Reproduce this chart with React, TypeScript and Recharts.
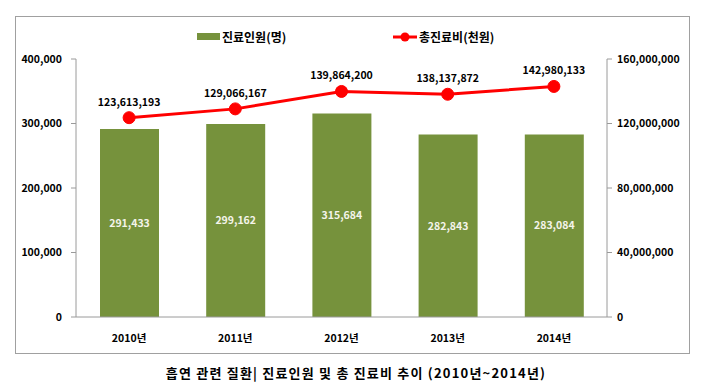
import React from 'react';
import { ComposedChart, Bar, Line, XAxis, YAxis, LabelList } from 'recharts';

const years = ['2010년', '2011년', '2012년', '2013년', '2014년'];
const patients = [291433, 299162, 315684, 282843, 283084];
const costs = [123613193, 129066167, 139864200, 138137872, 142980133];
const leftTicks = [0, 100000, 200000, 300000, 400000];
const rightTicks = [0, 40000000, 80000000, 120000000, 160000000];
const edgeTicks = [0, 1, 2, 3, 4, 5];
const barName = '진료인원(명)';
const lineName = '총진료비(천원)';
const title = '흡연 관련 질환| 진료인원 및 총 진료비 추이 (2010년~2014년)';

const data = years.map((y, i) => ({ year: y, idx: i + 0.5, patients: patients[i], costs: costs[i] }));

const FONT = '"Noto Sans CJK KR", "Noto Sans", sans-serif';
const fmt = (v: number) => v.toLocaleString('en-US');
const axisColor = '#9a9a9a';
const tickStyle = { fill: '#000', fontSize: 10.5, fontWeight: 700, fontFamily: FONT };

export default function App() {
  return (
    <div style={{ position: 'relative', width: 712, height: 389, margin: '-8px 0 0 -8px', background: '#fff', fontFamily: FONT }}>
      <div style={{ position: 'absolute', left: 15, top: 16, width: 675, height: 338, border: '1px solid #a0a0a0', boxSizing: 'border-box' }} />
      <ComposedChart width={712} height={389} data={data} margin={{ top: 59, right: 23, bottom: 42, left: 12 }} style={{ position: 'absolute', left: 0, top: 0 }}>
        <XAxis xAxisId="edges" type="number" dataKey="idx" domain={[0, 5]} ticks={edgeTicks} height={0}
          axisLine={false} tickLine={{ stroke: axisColor }} tickSize={5} tickFormatter={() => ''} />
        <XAxis dataKey="year" height={30} axisLine={{ stroke: axisColor }} tickLine={false}
          tick={tickStyle} tickMargin={12} />
        <YAxis yAxisId="left" domain={[0, 400000]} ticks={leftTicks} width={64} tickFormatter={fmt}
          axisLine={{ stroke: axisColor }} tickLine={{ stroke: axisColor }} tickSize={5} tick={tickStyle} tickMargin={9} />
        <YAxis yAxisId="right" orientation="right" domain={[0, 160000000]} ticks={rightTicks} width={82} tickFormatter={fmt}
          axisLine={{ stroke: axisColor }} tickLine={{ stroke: axisColor }} tickSize={5} tick={tickStyle} tickMargin={5} />
        <Bar yAxisId="left" dataKey="patients" name={barName} fill="#76923C" barSize={59} isAnimationActive={false}>
          <LabelList dataKey="patients" position="center" formatter={(v: any) => fmt(Number(v))}
            style={{ fill: '#f4f4ea', fontSize: 10.5, fontWeight: 700, fontFamily: FONT }} />
        </Bar>
        <Line yAxisId="right" dataKey="costs" name={lineName} stroke="#ff0000" strokeWidth={3}
          dot={{ r: 6, fill: '#ff0000', stroke: '#ff0000', strokeWidth: 1 }} isAnimationActive={false}>
          <LabelList dataKey="costs" position="top" offset={12} formatter={(v: any) => fmt(Number(v))}
            style={{ fill: '#000', fontSize: 10.5, fontWeight: 700, fontFamily: FONT }} />
        </Line>
      </ComposedChart>
      <div style={{ position: 'absolute', left: 197, top: 28, display: 'flex', alignItems: 'center', fontSize: 12, fontWeight: 700, color: '#000' }}>
        <svg width={23} height={10} style={{ marginRight: 2 }}><rect x={0} y={1} width={23} height={7} fill="#76923C" /></svg>
        <span>{barName}</span>
      </div>
      <div style={{ position: 'absolute', left: 393, top: 28, display: 'flex', alignItems: 'center', fontSize: 12, fontWeight: 700, color: '#000' }}>
        <svg width={24} height={14} style={{ marginRight: 2 }}>
          <line x1={0} y1={7} x2={24} y2={7} stroke="#ff0000" strokeWidth={3} />
          <circle cx={12} cy={7} r={4.5} fill="#ff0000" />
        </svg>
        <span>{lineName}</span>
      </div>
      <div style={{ position: 'absolute', left: 0, top: 363, width: 712, textAlign: 'center', fontSize: 13, fontWeight: 700, letterSpacing: 1.2, color: '#000' }}>
        {title}
      </div>
    </div>
  );
}
